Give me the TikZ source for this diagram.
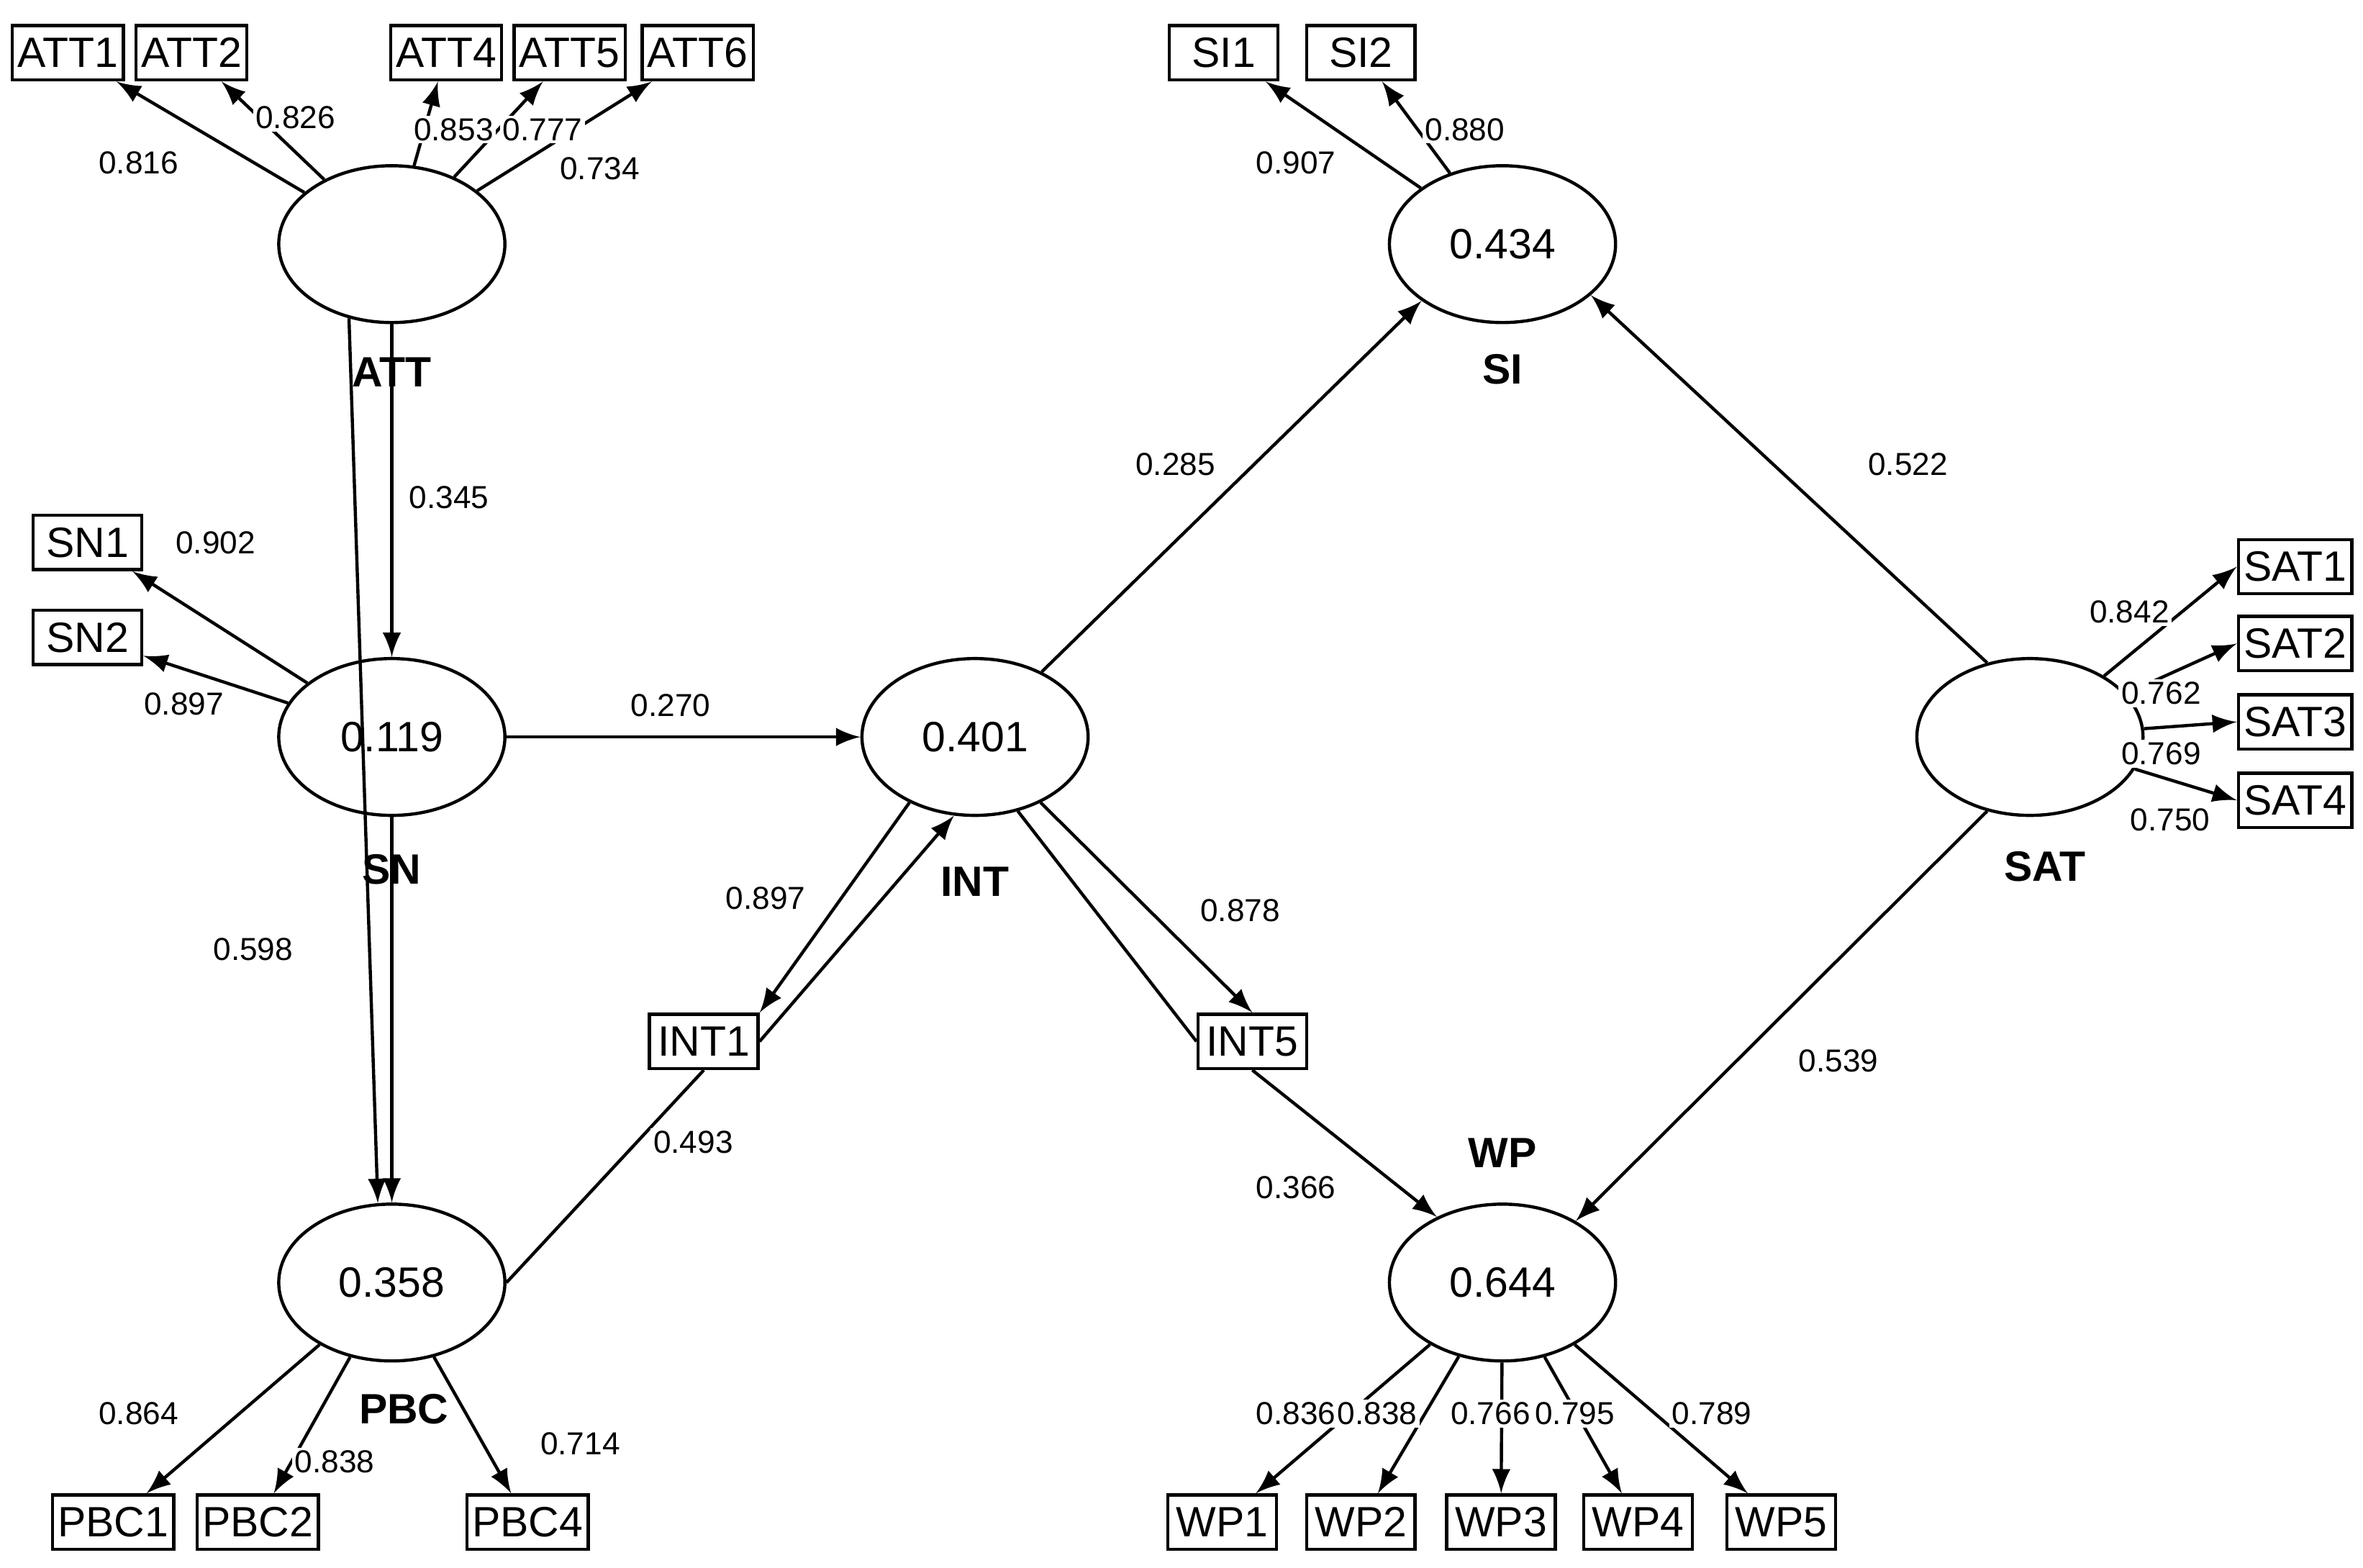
\documentclass[tikz,border=0pt]{standalone}
\usepackage{fontspec}
\setmainfont{Liberation Sans}
\usetikzlibrary{shapes.geometric}
\begin{document}
\begin{tikzpicture}[x=0.01cm,y=-0.01cm,
    lv/.style={draw,ellipse,inner sep=0pt,minimum width=1.5cm,minimum height=1.04cm,font=\fontsize{8}{9}\selectfont},
    mv/.style={draw,rectangle,minimum width=0.72cm,minimum height=0.36cm,inner sep=1pt,font=\fontsize{8}{9}\selectfont},
    nm/.style={font=\bfseries\fontsize{8}{9}\selectfont},
    wt/.style={font=\fontsize{6}{7}\selectfont,fill=white,inner sep=0.5pt},
    ar/.style={-latex},
    every path/.style={line width=0.6pt}]
    \useasboundingbox (0,0) rectangle (1568,1040);

    % latent variables
    \node[lv] (ATT) at (260,162) {};
    \node[lv] (SN) at (260,489) {0.119};
    \node[lv] (PBC) at (260,851) {0.358};
    \node[lv] (INT) at (647,489) {0.401};
    \node[lv] (SI) at (997,162) {0.434};
    \node[lv] (SAT) at (1347,489) {};
    \node[lv] (WP) at (997,851) {0.644};

    \node[nm] at (260,247) {ATT};
    \node[nm] at (260,577) {SN};
    \node[nm] at (268,935) {PBC};
    \node[nm] at (647,585) {INT};
    \node[nm] at (997,245) {SI};
    \node[nm] at (1357,575) {SAT};
    \node[nm] at (997,765) {WP};

    % indicators
    \foreach \n/\x in {ATT1/45,ATT2/127,ATT4/296,ATT5/378,ATT6/463}
        \node[mv] (\n) at (\x,35) {\n};
    \node[mv] (SI1) at (812,35) {SI1};
    \node[mv] (SI2) at (903,35) {SI2};
    \node[mv] (SN1) at (58,360) {SN1};
    \node[mv] (SN2) at (58,423) {SN2};
    \foreach \n/\y in {SAT1/376,SAT2/427,SAT3/479,SAT4/531}
        \node[mv] (\n) at (1523,\y) {\n};
    \node[mv] (INT1) at (467,691) {INT1};
    \node[mv] (INT5) at (831,691) {INT5};
    \foreach \n/\x in {PBC1/75,PBC2/171,PBC4/350}
        \node[mv] (\n) at (\x,1010) {\n};
    \foreach \n/\x in {WP1/811,WP2/903,WP3/996,WP4/1087,WP5/1182}
        \node[mv] (\n) at (\x,1010) {\n};

    % outer loadings
    \foreach \n in {ATT1,ATT2,ATT4,ATT5,ATT6} \draw[ar] (ATT) -- (\n);
    \foreach \n in {SI1,SI2} \draw[ar] (SI) -- (\n);
    \foreach \n in {SN1,SN2} \draw[ar] (SN) -- (\n);
    \foreach \n in {SAT1,SAT2,SAT3,SAT4} \draw[ar] (SAT) -- (\n.west);
    \foreach \n in {PBC1,PBC2,PBC4} \draw[ar] (PBC) -- (\n);
    \foreach \n in {WP1,WP2,WP3,WP4,WP5} \draw[ar] (WP) -- (\n);

    % structural paths
    \draw[ar] (ATT) -- (SN);
    \draw[ar] (ATT.-120) -- (PBC.100);
    \draw[ar] (SN) -- (PBC);
    \draw[ar] (SN) -- (INT);
    \draw[ar] (INT.-135) -- (INT1.north east);
    \draw[ar] (INT1.east) -- (INT.-105);
    \draw (PBC.east) -- (INT1.south);
    \draw[ar] (INT.-45) -- (INT5.north);
    \draw (INT.-60) -- (INT5.west);
    \draw[ar] (INT5.south) -- (WP.135);
    \draw[ar] (INT) -- (SI.-145);
    \draw[ar] (SAT.120) -- (SI.-30);
    \draw[ar] (SAT.-120) -- (WP.40);

    % weights
    \node[wt] at (92,108) {0.816};
    \node[wt] at (196,78) {0.826};
    \node[wt] at (301,86) {0.853};
    \node[wt] at (360,86) {0.777};
    \node[wt] at (398,112) {0.734};
    \node[wt] at (860,108) {0.907};
    \node[wt] at (972,86) {0.880};
    \node[wt] at (143,360) {0.902};
    \node[wt] at (122,467) {0.897};
    \node[wt] at (298,330) {0.345};
    \node[wt] at (168,630) {0.598};
    \node[wt] at (445,468) {0.270};
    \node[wt] at (508,596) {0.897};
    \node[wt] at (823,604) {0.878};
    \node[wt] at (460,758) {0.493};
    \node[wt] at (860,788) {0.366};
    \node[wt] at (780,308) {0.285};
    \node[wt] at (1266,308) {0.522};
    \node[wt] at (1220,704) {0.539};
    \node[wt] at (1413,406) {0.842};
    \node[wt] at (1434,460) {0.762};
    \node[wt] at (1434,500) {0.769};
    \node[wt] at (1440,544) {0.750};
    \node[wt] at (92,938) {0.864};
    \node[wt] at (222,970) {0.838};
    \node[wt] at (385,958) {0.714};
    \node[wt] at (860,938) {0.836};
    \node[wt] at (914,938) {0.838};
    \node[wt] at (989,938) {0.766};
    \node[wt] at (1045,938) {0.795};
    \node[wt] at (1136,938) {0.789};
\end{tikzpicture}
\end{document}
